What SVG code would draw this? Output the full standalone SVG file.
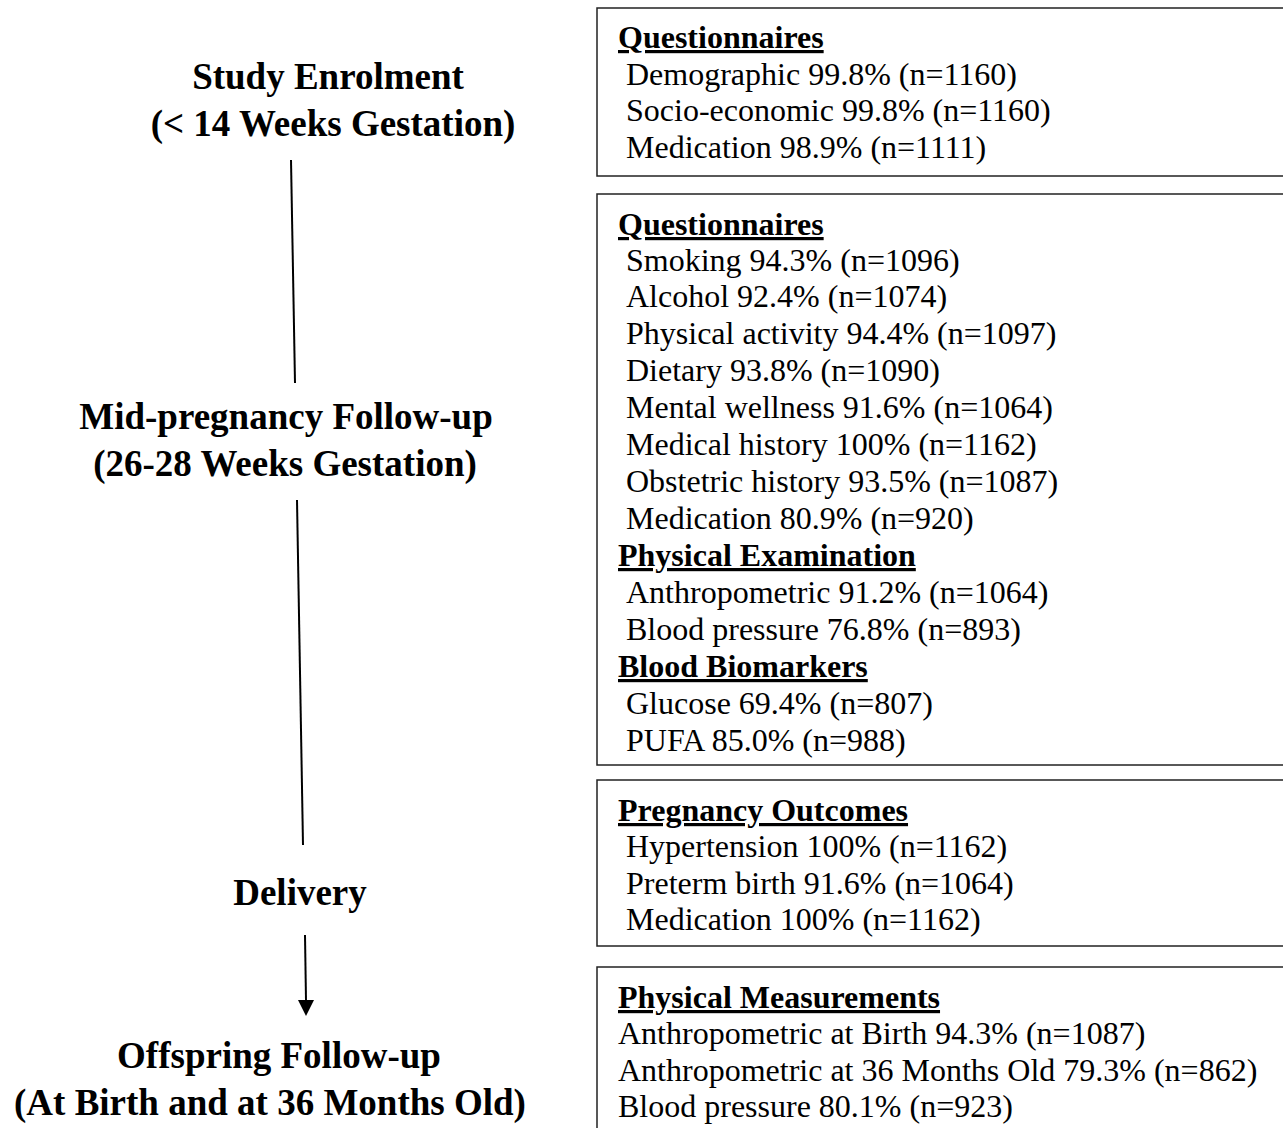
<svg xmlns="http://www.w3.org/2000/svg" width="1283" height="1128" viewBox="0 0 1283 1128">
<style>
.lbl{font-family:"Liberation Serif","Times New Roman",serif;font-weight:bold;font-size:37px;fill:#000;text-anchor:middle}
.h{font-family:"Liberation Serif","Times New Roman",serif;font-weight:bold;font-size:32px;fill:#000;text-decoration:underline}
.t{font-family:"Liberation Serif","Times New Roman",serif;font-size:32px;fill:#000}
.box{fill:#fff;stroke:#222;stroke-width:1.5}
.ln{stroke:#000;stroke-width:2;fill:none}
</style>
<g id="connectors">
<line class="ln" x1="291" y1="160" x2="295" y2="383"/>
<line class="ln" x1="297" y1="500" x2="303" y2="845"/>
<line class="ln" x1="305" y1="935" x2="306" y2="1001"/>
<path d="M298,1000 L314,1000 L306,1016 Z" fill="#000"/>
</g>
<g id="enrolment">
<text class="lbl" x="328" y="89">Study Enrolment</text>
<text class="lbl" x="333" y="136">(&lt; 14 Weeks Gestation)</text>
</g>
<g id="midpregnancy">
<text class="lbl" x="286" y="429">Mid-pregnancy Follow-up</text>
<text class="lbl" x="285" y="476">(26-28 Weeks Gestation)</text>
</g>
<g id="delivery">
<text class="lbl" x="300" y="905">Delivery</text>
</g>
<g id="offspring">
<text class="lbl" x="279" y="1068">Offspring Follow-up</text>
<text class="lbl" x="270" y="1115">(At Birth and at 36 Months Old)</text>
</g>
<g id="box1">
<rect class="box" x="597" y="8" width="700" height="168"/>
<text class="h" x="618" y="48">Questionnaires</text>
<text class="t" x="626" y="85">Demographic 99.8% (n=1160)</text>
<text class="t" x="626" y="121">Socio-economic 99.8% (n=1160)</text>
<text class="t" x="626" y="158">Medication 98.9% (n=1111)</text>
</g>
<g id="box2">
<rect class="box" x="597" y="194" width="700" height="571"/>
<text class="h" x="618" y="235">Questionnaires</text>
<text class="t" x="626" y="271">Smoking 94.3% (n=1096)</text>
<text class="t" x="626" y="307">Alcohol 92.4% (n=1074)</text>
<text class="t" x="626" y="344">Physical activity 94.4% (n=1097)</text>
<text class="t" x="626" y="381">Dietary 93.8% (n=1090)</text>
<text class="t" x="626" y="418">Mental wellness 91.6% (n=1064)</text>
<text class="t" x="626" y="455">Medical history 100% (n=1162)</text>
<text class="t" x="626" y="492">Obstetric history 93.5% (n=1087)</text>
<text class="t" x="626" y="529">Medication 80.9% (n=920)</text>
<text class="h" x="618" y="566">Physical Examination</text>
<text class="t" x="626" y="603">Anthropometric 91.2% (n=1064)</text>
<text class="t" x="626" y="640">Blood pressure 76.8% (n=893)</text>
<text class="h" x="618" y="677">Blood Biomarkers</text>
<text class="t" x="626" y="714">Glucose 69.4% (n=807)</text>
<text class="t" x="626" y="751">PUFA 85.0% (n=988)</text>
</g>
<g id="box3">
<rect class="box" x="597" y="780" width="700" height="166"/>
<text class="h" x="618" y="821">Pregnancy Outcomes</text>
<text class="t" x="626" y="857">Hypertension 100% (n=1162)</text>
<text class="t" x="626" y="894">Preterm birth 91.6% (n=1064)</text>
<text class="t" x="626" y="930">Medication 100% (n=1162)</text>
</g>
<g id="box4">
<rect class="box" x="597" y="967" width="700" height="180"/>
<text class="h" x="618" y="1008">Physical Measurements</text>
<text class="t" x="618" y="1044">Anthropometric at Birth 94.3% (n=1087)</text>
<text class="t" x="618" y="1081">Anthropometric at 36 Months Old 79.3% (n=862)</text>
<text class="t" x="618" y="1117">Blood pressure 80.1% (n=923)</text>
</g>
</svg>
